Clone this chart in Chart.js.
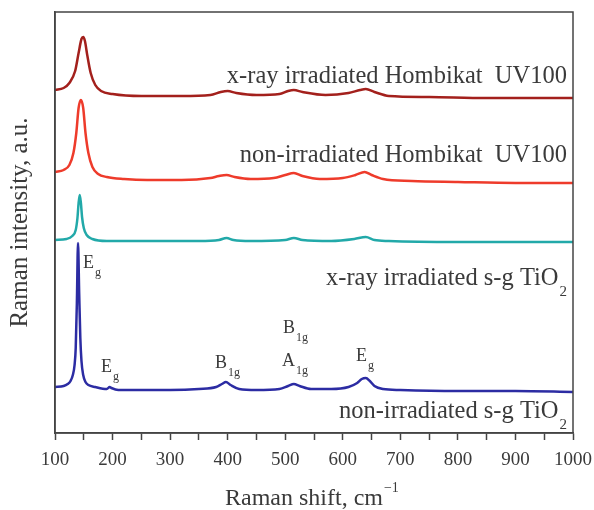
<!DOCTYPE html>
<html>
<head>
<meta charset="utf-8">
<script src="https://cdn.jsdelivr.net/npm/chart.js@4/dist/chart.umd.min.js"></script>
<style>
  html, body { margin: 0; padding: 0; background: #fff; }
  #wrap { width: 594px; height: 510px; }
</style>
</head>
<body>
<div id="wrap"><canvas id="c" width="594" height="510"></canvas></div>
<script>
// ---- data (Raman shift in cm^-1, intensity in arbitrary offset units) ----
const xTicks = [100, 200, 300, 400, 500, 600, 700, 800, 900, 1000];

const shiftXrayHombikat = [100,115,125,135,141,146,149,152,156,162,170,180,200,250,320,370,388,400,415,450,490,505,515,530,570,610,630,640,655,680,750,850,1000];
const intXrayHombikat   = [343,345,350,362,380,394,396,392,378,360,348,342,339,337,337,338,341,342,340,338,339,342,343,341,338,340,343,344,341,337,336,335,335];

const shiftNonHombikat = [100,115,125,132,137,141,145,149,153,158,165,175,190,220,260,320,370,385,398,412,440,480,500,515,530,560,600,622,638,650,670,720,800,900,1000];
const intNonHombikat   = [261,263,268,280,300,325,333,325,300,280,266,259,256,254,253,253,255,257,258,256,254,255,258,260,257,254,255,258,261,258,254,252,251,250,250];

const shiftXraySG = [100,120,130,136,139,141,143,145,147,150,155,165,190,250,350,385,398,410,440,500,515,530,580,620,640,655,680,800,1000];
const intXraySG   = [193,194,197,203,215,230,238,230,216,205,198,194,192,192,192,193,195,193,192,193,195,193,192,194,196,193,192,191,191];

const shiftNonSG = [100,115,122,127,131,134,136,138,140,142,144,146,149,153,158,170,190,195,198,210,250,300,350,380,390,397,405,420,450,490,505,515,525,545,580,610,625,633,640,647,655,670,700,800,900,1000];
const intNonSG   = [46,47,49,52,58,68,85,130,190,140,95,72,58,51,48,46,44,46,45,43,43,43,44,46,49,51,48,44,43,44,47,49,47,44,44,46,50,54,55,52,47,44,43,42,42,41];

const seriesNames = ["x-ray irradiated Hombikat  UV100", "non-irradiated Hombikat  UV100", "x-ray irradiated s-g TiO", "non-irradiated s-g TiO"];
const seriesColors = ["#a3201c", "#ee3b2b", "#22a9a9", "#2c2ca3"];

function pts(xs, ys) { return xs.map((x, i) => ({ x: x, y: ys[i] })); }

const SERIF = '"Liberation Serif", "Times New Roman", serif';
const TXT = '#3a3a3a';

const annot = {
  id: 'annot',
  afterDraw(chart) {
    const ctx = chart.ctx;
    const a = chart.chartArea;
    ctx.save();
    // frame
    ctx.strokeStyle = '#444';
    ctx.lineWidth = 1.5;
    ctx.strokeRect(a.left, a.top, a.right - a.left, a.bottom - a.top);
    ctx.fillStyle = TXT;
    ctx.textBaseline = 'alphabetic';

    // series labels (right aligned)
    const rx = a.right - 6;
    function label(text, sub, y) {
      ctx.font = '24.5px ' + SERIF;
      const w1 = ctx.measureText(text).width;
      let w2 = 0;
      if (sub) { ctx.font = '15px ' + SERIF; w2 = ctx.measureText(sub).width + 1; }
      const x0 = rx - w1 - w2;
      ctx.font = '24.5px ' + SERIF;
      ctx.textAlign = 'left';
      ctx.fillText(text, x0, y);
      if (sub) { ctx.font = '15px ' + SERIF; ctx.fillText(sub, x0 + w1 + 1, y + 11); }
    }
    label(seriesNames[0], null, 83);
    label(seriesNames[1], null, 162);
    label(seriesNames[2], '2', 285);
    label(seriesNames[3], '2', 418);

    // peak labels
    function peak(main, sub, x, y) {
      ctx.font = '18px ' + SERIF;
      ctx.textAlign = 'left';
      ctx.fillText(main, x, y);
      const w = ctx.measureText(main).width;
      ctx.font = '12px ' + SERIF;
      ctx.fillText(sub, x + w + 1, y + 8);
    }
    peak('E', 'g', 83, 268);
    peak('E', 'g', 101, 372);
    peak('B', '1g', 215, 368);
    peak('B', '1g', 283, 333);
    peak('A', '1g', 282, 366);
    peak('E', 'g', 356, 361);

    // x-axis title with superscript
    ctx.font = '24px ' + SERIF;
    const t = 'Raman shift, cm';
    const tw = ctx.measureText(t).width;
    const x0 = 225;
    ctx.fillText(t, x0, 505);
    ctx.font = '14px ' + SERIF;
    ctx.fillText('\u22121', x0 + tw + 1, 492);
    ctx.restore();
  }
};

const mk = (i, xs, ys) => ({
  label: seriesNames[i],
  data: pts(xs, ys),
  borderColor: seriesColors[i],
  borderWidth: 2.5,
  pointRadius: 0,
  fill: false,
  cubicInterpolationMode: 'monotone'
});

new Chart(document.getElementById('c'), {
  type: 'line',
  data: {
    datasets: [
      mk(0, shiftXrayHombikat, intXrayHombikat),
      mk(1, shiftNonHombikat, intNonHombikat),
      mk(2, shiftXraySG, intXraySG),
      mk(3, shiftNonSG, intNonSG)
    ]
  },
  options: {
    responsive: false,
    animation: false,
    layout: { padding: { top: 12, right: 21, bottom: 38, left: 0 } },
    plugins: { legend: { display: false }, tooltip: { enabled: false } },
    scales: {
      x: {
        type: 'linear',
        min: 100, max: 1000,
        afterBuildTicks(s) {
          const t = [];
          for (let v = 100; v <= 1000; v += 50) t.push({ value: v });
          s.ticks = t;
        },
        afterFit(s) { s.height = 39; s.paddingLeft = 0; s.paddingRight = 0; },
        ticks: {
          color: TXT,
          font: { family: SERIF, size: 19 },
          padding: 9,
          maxRotation: 0,
          autoSkip: false,
          callback: (v) => (xTicks.includes(v) ? String(v) : '')
        },
        grid: { drawOnChartArea: false, drawTicks: true, tickLength: 7, tickColor: '#444', tickWidth: 1.5 },
        border: { display: true, color: '#444', width: 1.5 }
      },
      y: {
        min: 0, max: 421,
        afterFit(s) { s.width = 55; },
        ticks: { display: false },
        grid: { drawOnChartArea: false, drawTicks: false },
        border: { display: true, color: '#444', width: 1.5 },
        title: {
          display: true,
          text: 'Raman intensity, a.u.',
          color: TXT,
          font: { family: SERIF, size: 25 },
          padding: { top: 5, bottom: 0 }
        }
      }
    }
  },
  plugins: [annot]
});
</script>
</body>
</html>
